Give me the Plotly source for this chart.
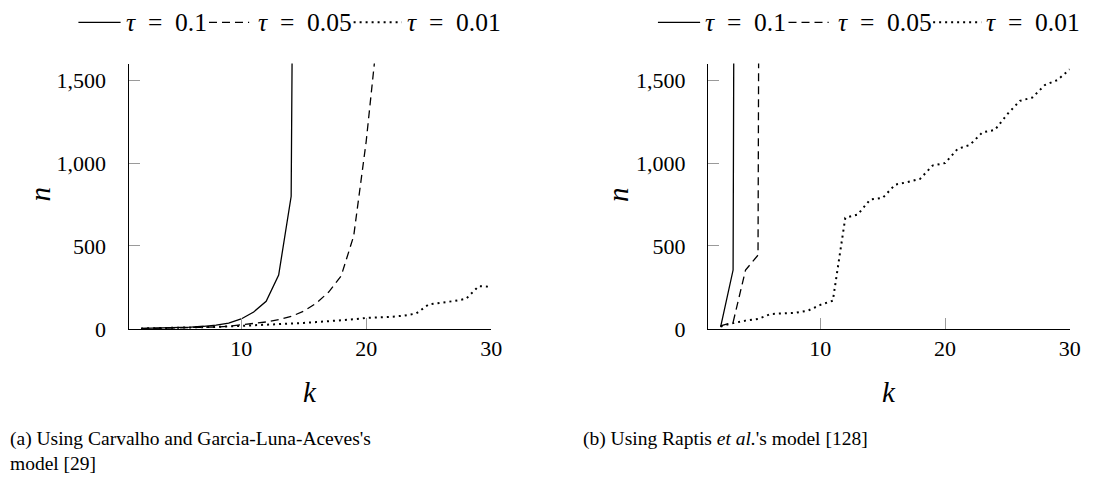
import plotly.graph_objects as go

# ---------------- data ----------------
tau_labels = ["<i>τ</i>\u2002=\u20020.1", "<i>τ</i>\u2002=\u20020.05", "<i>τ</i>\u2002=\u20020.01"]

# (a) Carvalho and Garcia-Luna-Aceves's model
k_a_01 = list(range(2, 16))
n_a_01 = [3, 4, 6, 8, 11, 16, 23, 35, 60, 102, 167, 325, 800, 12000]
k_a_005 = list(range(2, 22))
n_a_005 = [2, 3, 4, 5, 7, 9, 12, 16, 25, 32, 42, 56, 75, 107, 155, 222, 320, 560, 1130, 1850]
k_a_001 = list(range(2, 31))
n_a_001 = [3, 4, 5, 7, 8, 10, 12, 15, 18,
           21, 25, 28, 32, 36, 41, 46, 52, 58, 66,
           69, 73, 80, 93, 148, 156, 168, 182, 258, 254]

# (b) Raptis et al.'s model
k_b_01 = [2, 3, 4]
n_b_01 = [12, 355, 25000]
k_b_005 = [2, 3, 4, 5, 6]
n_b_005 = [18, 40, 355, 445, 25000]
k_b_001 = list(range(2, 31))
n_b_001 = [15, 35, 50, 60, 90, 95, 97, 110, 145, 170,
           670, 690, 780, 790, 870, 885, 905, 985, 1000, 1085,
           1110, 1185, 1200, 1295, 1375, 1395, 1470, 1500, 1565]

x_ticks = [10, 20, 30]
y_ticks = [0, 500, 1000, 1500]
x_range = [1, 30]
y_range = [0, 1600]

captions = ["(a) Using Carvalho and Garcia-Luna-Aceves's<br>model [29]",
            "(b) Using Raptis <i>et al.</i>'s model [128]"]

# ---------------- figure ----------------
W, H = 1111, 491
BODY = 8                      # default page body margin
SX, SY = W / (W + 2 * BODY), H / (H + 2 * BODY)
FONT = "Liberation Serif"
dashes = ["solid", "8px,5px", "2px,4px"]
widths = [1.3, 1.3, 2]

fig = go.Figure()
series_a = [(k_a_01, n_a_01), (k_a_005, n_a_005), (k_a_001, n_a_001)]
series_b = [(k_b_01, n_b_01), (k_b_005, n_b_005), (k_b_001, n_b_001)]
for i, (kx, ny) in enumerate(series_a):
    fig.add_trace(go.Scatter(x=kx, y=ny, mode="lines", name=tau_labels[i],
                             line=dict(color="black", width=widths[i], dash=dashes[i]),
                             xaxis="x", yaxis="y", showlegend=False))
for i, (kx, ny) in enumerate(series_b):
    fig.add_trace(go.Scatter(x=kx, y=ny, mode="lines", name=tau_labels[i],
                             line=dict(color="black", width=widths[i], dash=dashes[i]),
                             xaxis="x2", yaxis="y2", showlegend=False))

def px(x):
    return (x / SX - BODY) / W

def py(y):
    return 1 - (y / SY - BODY) / H

ydom = [py(327), py(63)]
axis_common = dict(showgrid=False, zeroline=False, showline=True, linecolor="black",
                   linewidth=1.3, ticks="inside", ticklen=11, tickcolor="#9a9a9a",
                   tickwidth=1.2,
                   tickfont=dict(family=FONT, size=22, color="black"))

fig.update_layout(
    width=W, height=H,
    margin=dict(l=0, r=0, t=0, b=0),
    paper_bgcolor="white", plot_bgcolor="white",
    font=dict(family=FONT, color="black"),
    xaxis=dict(domain=[px(128), px(489)], range=x_range, tickvals=x_ticks,
               anchor="y", ticklabelstandoff=0, **axis_common),
    yaxis=dict(domain=ydom, range=y_range, tickvals=y_ticks, tickformat=",d",
               anchor="x", ticklabelstandoff=17, **axis_common),
    xaxis2=dict(domain=[px(705), px(1065)], range=x_range, tickvals=x_ticks,
                anchor="y2", ticklabelstandoff=0, **axis_common),
    yaxis2=dict(domain=ydom, range=y_range, tickvals=y_ticks, tickformat=",d",
                anchor="x2", ticklabelstandoff=17, **axis_common),
    showlegend=False,
)

# legend keys (one legend above each panel)
LEG_Y = 22
key_spans = [(78, 120, 123), (208, 248, 255), (352, 400, 403)]  # line start, line end, text start
shapes = []
ann = []
for offset in (0, 577):
    for i, (x0, x1, xt) in enumerate(key_spans):
        shapes.append(dict(type="line", xref="paper", yref="paper",
                           x0=px(x0 + offset), x1=px(x1 + offset), y0=py(LEG_Y), y1=py(LEG_Y),
                           line=dict(color="black", width=widths[i], dash=dashes[i])))
        ann.append(dict(x=px(xt + offset), y=py(LEG_Y), xref="paper", yref="paper",
                        text=tau_labels[i], showarrow=False, xanchor="left", yanchor="middle",
                        font=dict(family=FONT, size=25.5, color="black")))

for xc in (40, 615):
    ann.append(dict(x=px(xc), y=py(193), xref="paper", yref="paper", text="<i>n</i>",
                    showarrow=False, textangle=-90, xanchor="center", yanchor="middle",
                    font=dict(family=FONT, size=29, color="black")))
for xc in (309, 885):
    ann.append(dict(x=px(xc), y=py(390), xref="paper", yref="paper", text="<i>k</i>",
                    showarrow=False, xanchor="center", yanchor="middle",
                    font=dict(family=FONT, size=29, color="black")))
ann.append(dict(x=0, y=py(424), xref="paper", yref="paper", text=captions[0],
                showarrow=False, xanchor="left", yanchor="top", align="left",
                font=dict(family=FONT, size=19.5, color="black")))
ann.append(dict(x=px(578), y=py(424), xref="paper", yref="paper", text=captions[1],
                showarrow=False, xanchor="left", yanchor="top", align="left",
                font=dict(family=FONT, size=19.5, color="black")))
fig.update_layout(annotations=ann, shapes=shapes)

fig.write_html("out.html", config={"displayModeBar": False})
